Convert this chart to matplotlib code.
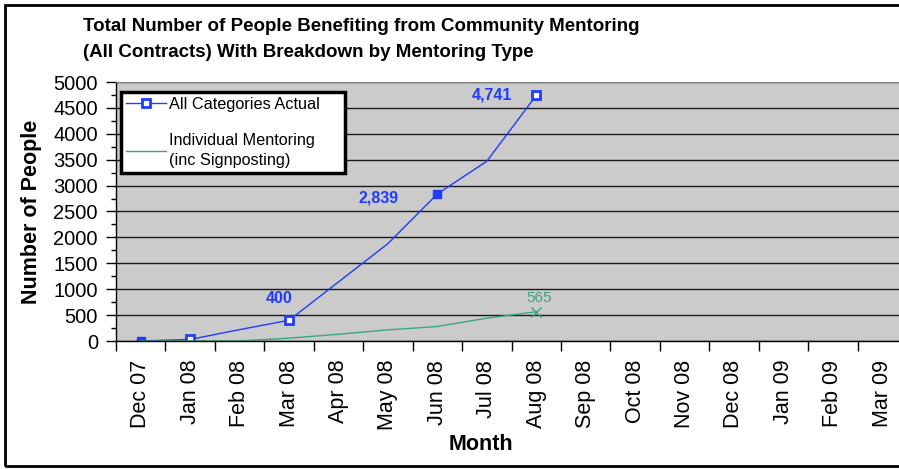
import matplotlib.pyplot as plt
from matplotlib.patches import Rectangle
from matplotlib.ticker import MultipleLocator, FixedLocator, NullFormatter, FixedFormatter

plt.rcParams['font.family'] = ['Liberation Sans', 'DejaVu Sans']

# data
months = ['Dec 07', 'Jan 08', 'Feb 08', 'Mar 08', 'Apr 08', 'May 08', 'Jun 08',
          'Jul 08', 'Aug 08', 'Sep 08', 'Oct 08', 'Nov 08', 'Dec 08', 'Jan 09',
          'Feb 09', 'Mar 09']
all_actual = [0, 30, 220, 400, 1140, 1880, 2839, 3470, 4741]
individual = [0, 0, 0, 55, 130, 215, 280, 440, 565]
label_points = [3, 6, 8]

blue = '#1f3cff'
green = '#3aa87a'

fig = plt.figure(figsize=(8.99, 4.69), dpi=100)
ax = fig.add_axes([116 / 899, 1 - 341 / 469, 791 / 899, 259 / 469])
ax.set_facecolor('#cbcbcb')

x = list(range(len(all_actual)))

# blue series: line, hollow and filled markers
ax.plot(x, all_actual, color=blue, lw=1, marker='s', ms=6, mew=2,
        mfc='white', mec=blue, markevery=[1, 3, 8], label='All Categories Actual')
ax.plot(x, all_actual, ls='none', marker='s', ms=6, color=blue, markevery=[0, 6])

# green series
ax.plot(x, individual, color=green, lw=1,
        label='Individual Mentoring\n(inc Signposting)')
ax.plot(x[-1], individual[-1], ls='none', marker='x', ms=7, mew=1, color=green)

# data labels
offsets = {3: (-7, 16), 6: (-42, -3), 8: (-32, 0)}
for i in label_points:
    ax.annotate(f'{all_actual[i]:,}', (x[i], all_actual[i]), textcoords='offset points',
                xytext=offsets[i], ha='center', va='center', color=blue,
                fontsize=11.5, fontweight='bold')
ax.annotate(f'{individual[-1]}', (x[-1], individual[-1]), textcoords='offset points',
            xytext=(2, 10), ha='center', va='center', color=green, fontsize=11)

# axes
ax.set_xlim(-0.5, len(months) - 0.5)
ax.set_ylim(0, 5000)
ax.yaxis.set_major_locator(MultipleLocator(500))
ax.yaxis.set_minor_locator(MultipleLocator(250))
ax.grid(axis='y', which='major', color='#1a1a1a', lw=1)
ax.set_axisbelow(True)

ax.xaxis.set_major_locator(FixedLocator([i - 0.5 for i in range(len(months) + 1)]))
ax.xaxis.set_major_formatter(NullFormatter())
ax.xaxis.set_minor_locator(FixedLocator(range(len(months))))
ax.xaxis.set_minor_formatter(FixedFormatter(months))
ax.tick_params(axis='x', which='major', direction='out', length=7, width=1)
ax.tick_params(axis='x', which='minor', length=0, pad=13.5, labelsize=15.5, labelrotation=90)
ax.tick_params(axis='y', which='major', direction='out', length=7, width=1, pad=6,
               labelsize=14.5)
ax.tick_params(axis='y', which='minor', direction='out', length=3.5, width=1)

ax.spines['top'].set_color('#808080')
ax.spines['right'].set_visible(False)
ax.spines['left'].set_linewidth(1)
ax.spines['bottom'].set_linewidth(1)

ax.set_ylabel('Number of People', fontsize=15.5, fontweight='bold')
ax.yaxis.set_label_coords(-0.094, 0.5)
ax.set_xlabel('Month', fontsize=15.5, fontweight='bold')
ax.xaxis.set_label_coords(0.461, -0.36)

leg = ax.legend(loc='upper left', bbox_to_anchor=(120.7 / 899, 1 - 171.7 / 469,
                                                  224 / 899, 80 / 469),
                bbox_transform=fig.transFigure, mode='expand', borderaxespad=0,
                fontsize=11.7, frameon=True, fancybox=False, framealpha=1,
                handlelength=2.5, handletextpad=0.15, borderpad=0.3, labelspacing=1.3)
leg.get_frame().set_edgecolor('black')
leg.get_frame().set_linewidth(2.5)
leg.get_texts()[1].set_linespacing(1.45)

fig.text(83 / 899, 1 - 31 / 469, 'Total Number of People Benefiting from Community Mentoring',
         fontsize=13.5, fontweight='bold', ha='left', va='baseline')
fig.text(83 / 899, 1 - 57 / 469, '(All Contracts) With Breakdown by Mentoring Type',
         fontsize=13.5, fontweight='bold', ha='left', va='baseline')

# chart area border
fig.add_artist(Rectangle((5 / 899, 3 / 469), 1.0, 461 / 469, transform=fig.transFigure,
                         fill=False, ec='black', lw=2))

fig.savefig('out.png', dpi=100)
